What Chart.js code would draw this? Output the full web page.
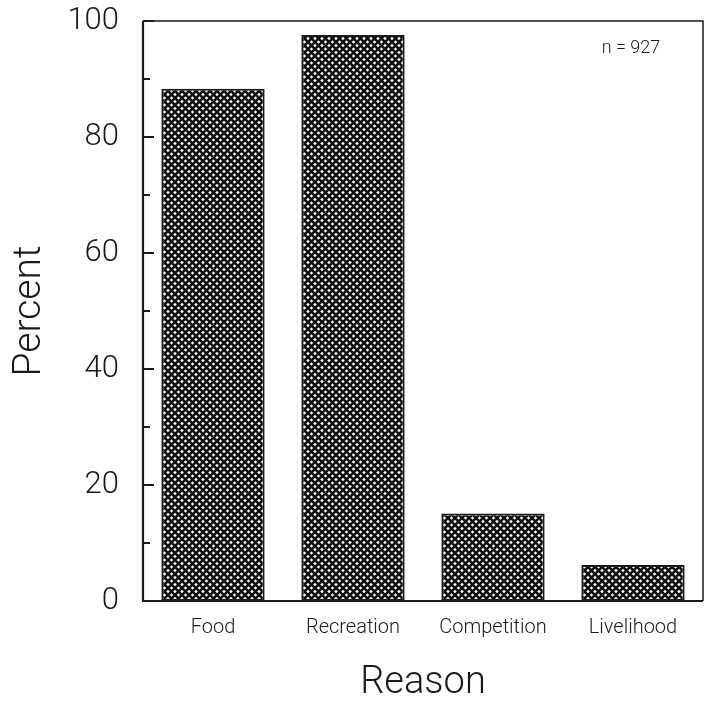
<!DOCTYPE html>
<html>
<head>
<meta charset="utf-8">
<script src="https://cdn.jsdelivr.net/npm/chart.js@4.4.1/dist/chart.umd.min.js"></script>
<style>
  body { margin: 0; background: #fff; }
</style>
</head>
<body>
<canvas id="grafico" width="704" height="702"></canvas>
<script>
// datos
const razones = ['Food', 'Recreation', 'Competition', 'Livelihood'];
const porcentajes = [88.3, 97.6, 15.1, 6.2];
const marcasY = [0, 20, 40, 60, 80, 100];
const marcasMenores = [10, 30, 50, 70, 90];
const nota = 'n = 927';

const fuente = "Roboto, 'Liberation Sans', Arial, sans-serif";
const tinta = '#1a1a1a';

// trama cruzada de las barras
function trama() {
    const c = document.createElement('canvas');
    c.width = 7;
    c.height = 7;
    const g = c.getContext('2d');
    g.fillStyle = '#fff';
    g.fillRect(0, 0, 7, 7);
    g.strokeStyle = '#111';
    g.lineWidth = 2.6;
    g.beginPath();
    g.moveTo(-1, -1); g.lineTo(8, 8);
    g.moveTo(-1, 8); g.lineTo(8, -1);
    g.stroke();
    return g.createPattern(c, 'repeat');
}

// marco y marcas hacia adentro
const marco = {
    id: 'marco',
    afterDraw(chart) {
        const {ctx, chartArea: a, scales: {y}} = chart;
        ctx.save();
        ctx.strokeStyle = tinta;
        ctx.fillStyle = tinta;

        ctx.lineWidth = 1.5;
        ctx.beginPath();
        ctx.moveTo(a.left, a.top);
        ctx.lineTo(a.right, a.top);
        ctx.lineTo(a.right, a.bottom);
        ctx.stroke();

        ctx.lineWidth = 2.2;
        ctx.beginPath();
        ctx.moveTo(a.left, a.top);
        ctx.lineTo(a.left, a.bottom);
        ctx.lineTo(a.right, a.bottom);
        ctx.stroke();

        marcasY.forEach(v => {
            const py = y.getPixelForValue(v);
            ctx.fillRect(a.left, py - 1, 11, 2);
        });
        marcasMenores.forEach(v => {
            const py = y.getPixelForValue(v);
            ctx.fillRect(a.left, py - 1, 7, 2);
        });

        ctx.font = '300 18px ' + fuente;
        ctx.textAlign = 'center';
        ctx.textBaseline = 'middle';
        ctx.fillText(nota, a.right - 72, a.top + 27);
        ctx.restore();
    }
};

const ctx = document.getElementById('grafico');

const grafico = new Chart(ctx, {
    type: 'bar',
    data: {
        labels: razones,
        datasets: [{
            data: porcentajes,
            backgroundColor: trama(),
            borderColor: tinta,
            borderWidth: 2,
            borderSkipped: false,
            barPercentage: 0.82,
            categoryPercentage: 0.9
        }]
    },
    options: {
        responsive: false,
        animation: false,
        layout: {
            padding: {top: 21, right: 1, left: 0, bottom: 0}
        },
        plugins: {
            legend: {display: false},
            tooltip: {enabled: false}
        },
        scales: {
            x: {
                grid: {display: false, drawTicks: false},
                border: {display: false},
                ticks: {
                    color: tinta,
                    font: {family: fuente, size: 20, weight: 300},
                    padding: 15,
                    maxRotation: 0
                },
                title: {
                    display: true,
                    text: 'Reason',
                    color: tinta,
                    font: {family: fuente, size: 38, weight: 300, lineHeight: 1},
                    padding: {top: 0, bottom: 0}
                },
                afterFit: (s) => {
                    s.height = 101;
                    s.paddingLeft = 0;
                    s.paddingRight = 0;
                }
            },
            y: {
                min: 0,
                max: 100,
                grid: {display: false, drawTicks: false},
                border: {display: false},
                ticks: {
                    stepSize: 20,
                    color: tinta,
                    font: {family: fuente, size: 31, weight: 300},
                    padding: 24
                },
                title: {
                    display: true,
                    text: 'Percent',
                    color: tinta,
                    font: {family: fuente, size: 39, weight: 300, lineHeight: 1},
                    padding: {top: 11, bottom: 0}
                },
                afterFit: (s) => {
                    s.width = 143;
                    s.paddingTop = 0;
                    s.paddingBottom = 0;
                }
            }
        }
    },
    plugins: [marco]
});
</script>
</body>
</html>
